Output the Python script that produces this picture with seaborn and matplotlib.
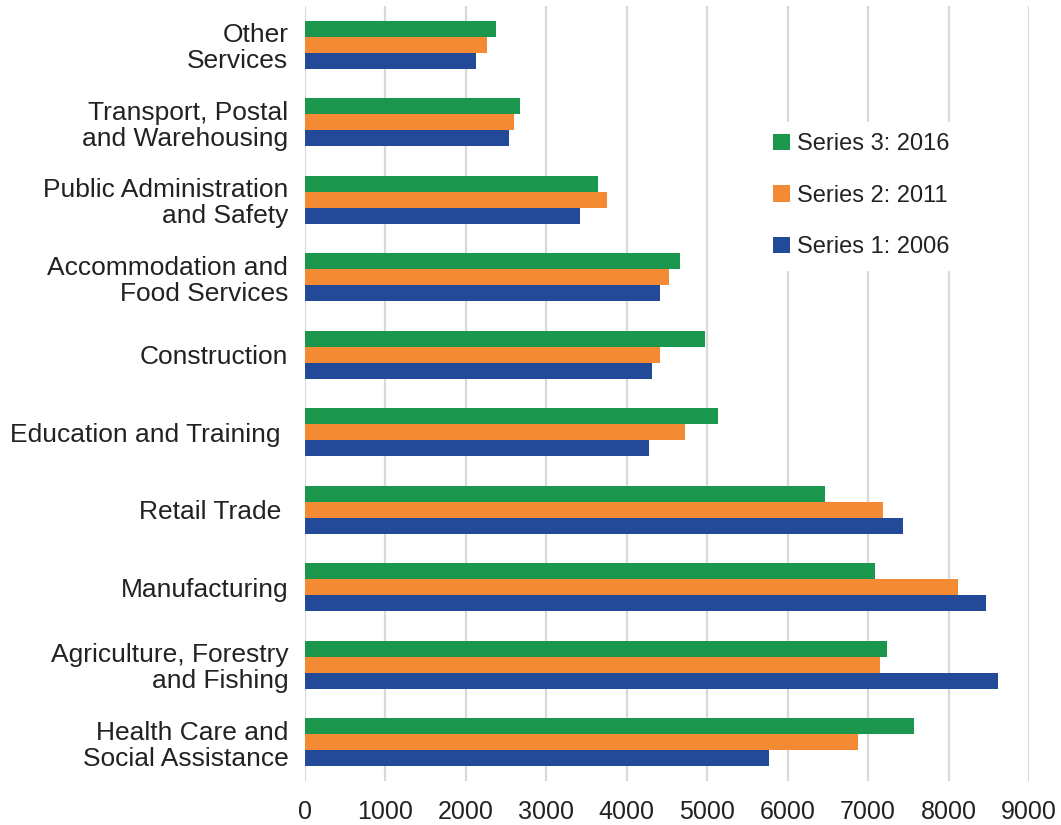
import matplotlib
matplotlib.use("Agg")
import matplotlib.pyplot as plt
import seaborn as sns
import pandas as pd

categories = ["Other\nServices", "Transport, Postal\nand Warehousing",
              "Public Administration\nand Safety", "Accommodation and\nFood Services",
              "Construction", "Education and Training ", "Retail Trade ",
              "Manufacturing", "Agriculture, Forestry\nand Fishing",
              "Health Care and\nSocial Assistance"]
series3_2016 = [2370, 2675, 3640, 4665, 4975, 5135, 6460, 7090, 7230, 7565]
series2_2011 = [2260, 2595, 3750, 4525, 4415, 4720, 7180, 8115, 7145, 6875]
series1_2006 = [2120, 2535, 3420, 4415, 4310, 4280, 7430, 8470, 8610, 5770]
series_names = ["Series 3: 2016", "Series 2: 2011", "Series 1: 2006"]
colors = ["#1b974d", "#f48a33", "#224a99"]

rows = []
for name, vals in zip(series_names, [series3_2016, series2_2011, series1_2006]):
    for c, v in zip(categories, vals):
        rows.append({"Industry": c, "Value": v, "Series": name})
df = pd.DataFrame(rows)

sns.set_theme(style="white")
plt.rcParams["font.family"] = ["Liberation Sans", "DejaVu Sans"]

fig = plt.figure(figsize=(10.61, 8.25), dpi=100)
ax = fig.add_axes([305/1061, 1-781/825, 724/1061, 775/825])

sns.barplot(data=df, y="Industry", x="Value", hue="Series", orient="h",
            order=categories, hue_order=series_names, palette=colors,
            width=0.62, ax=ax, saturation=1, zorder=3, edgecolor="none")

ax.set_xlim(0, 9000)
ax.set_xticks(range(0, 9001, 1000))
ax.set_xticklabels([str(v) for v in range(0, 9001, 1000)], fontsize=18, color="#222222")
ax.tick_params(axis="x", length=0, pad=14)
ax.tick_params(axis="y", length=0, pad=12, labelsize=19, labelcolor="#222222")
for t in ax.get_yticklabels():
    t.set_linespacing(1.1)
ax.set_xlabel("")
ax.set_ylabel("")
ax.grid(axis="x", color="#d9d9d9", linewidth=1.6, zorder=0)
ax.set_axisbelow(True)
for s in ax.spines.values():
    s.set_visible(False)

leg = ax.legend(loc="upper left", bbox_to_anchor=(0.614, 0.866), frameon=True,
                facecolor="white", edgecolor="white", framealpha=1,
                fontsize=17, handlelength=0.7, handleheight=0.7,
                handletextpad=0.3, labelspacing=1.25, borderpad=0.5)
leg.set_zorder(5)
for t in leg.get_texts():
    t.set_color("#222222")

fig.savefig("out.png", dpi=100)
